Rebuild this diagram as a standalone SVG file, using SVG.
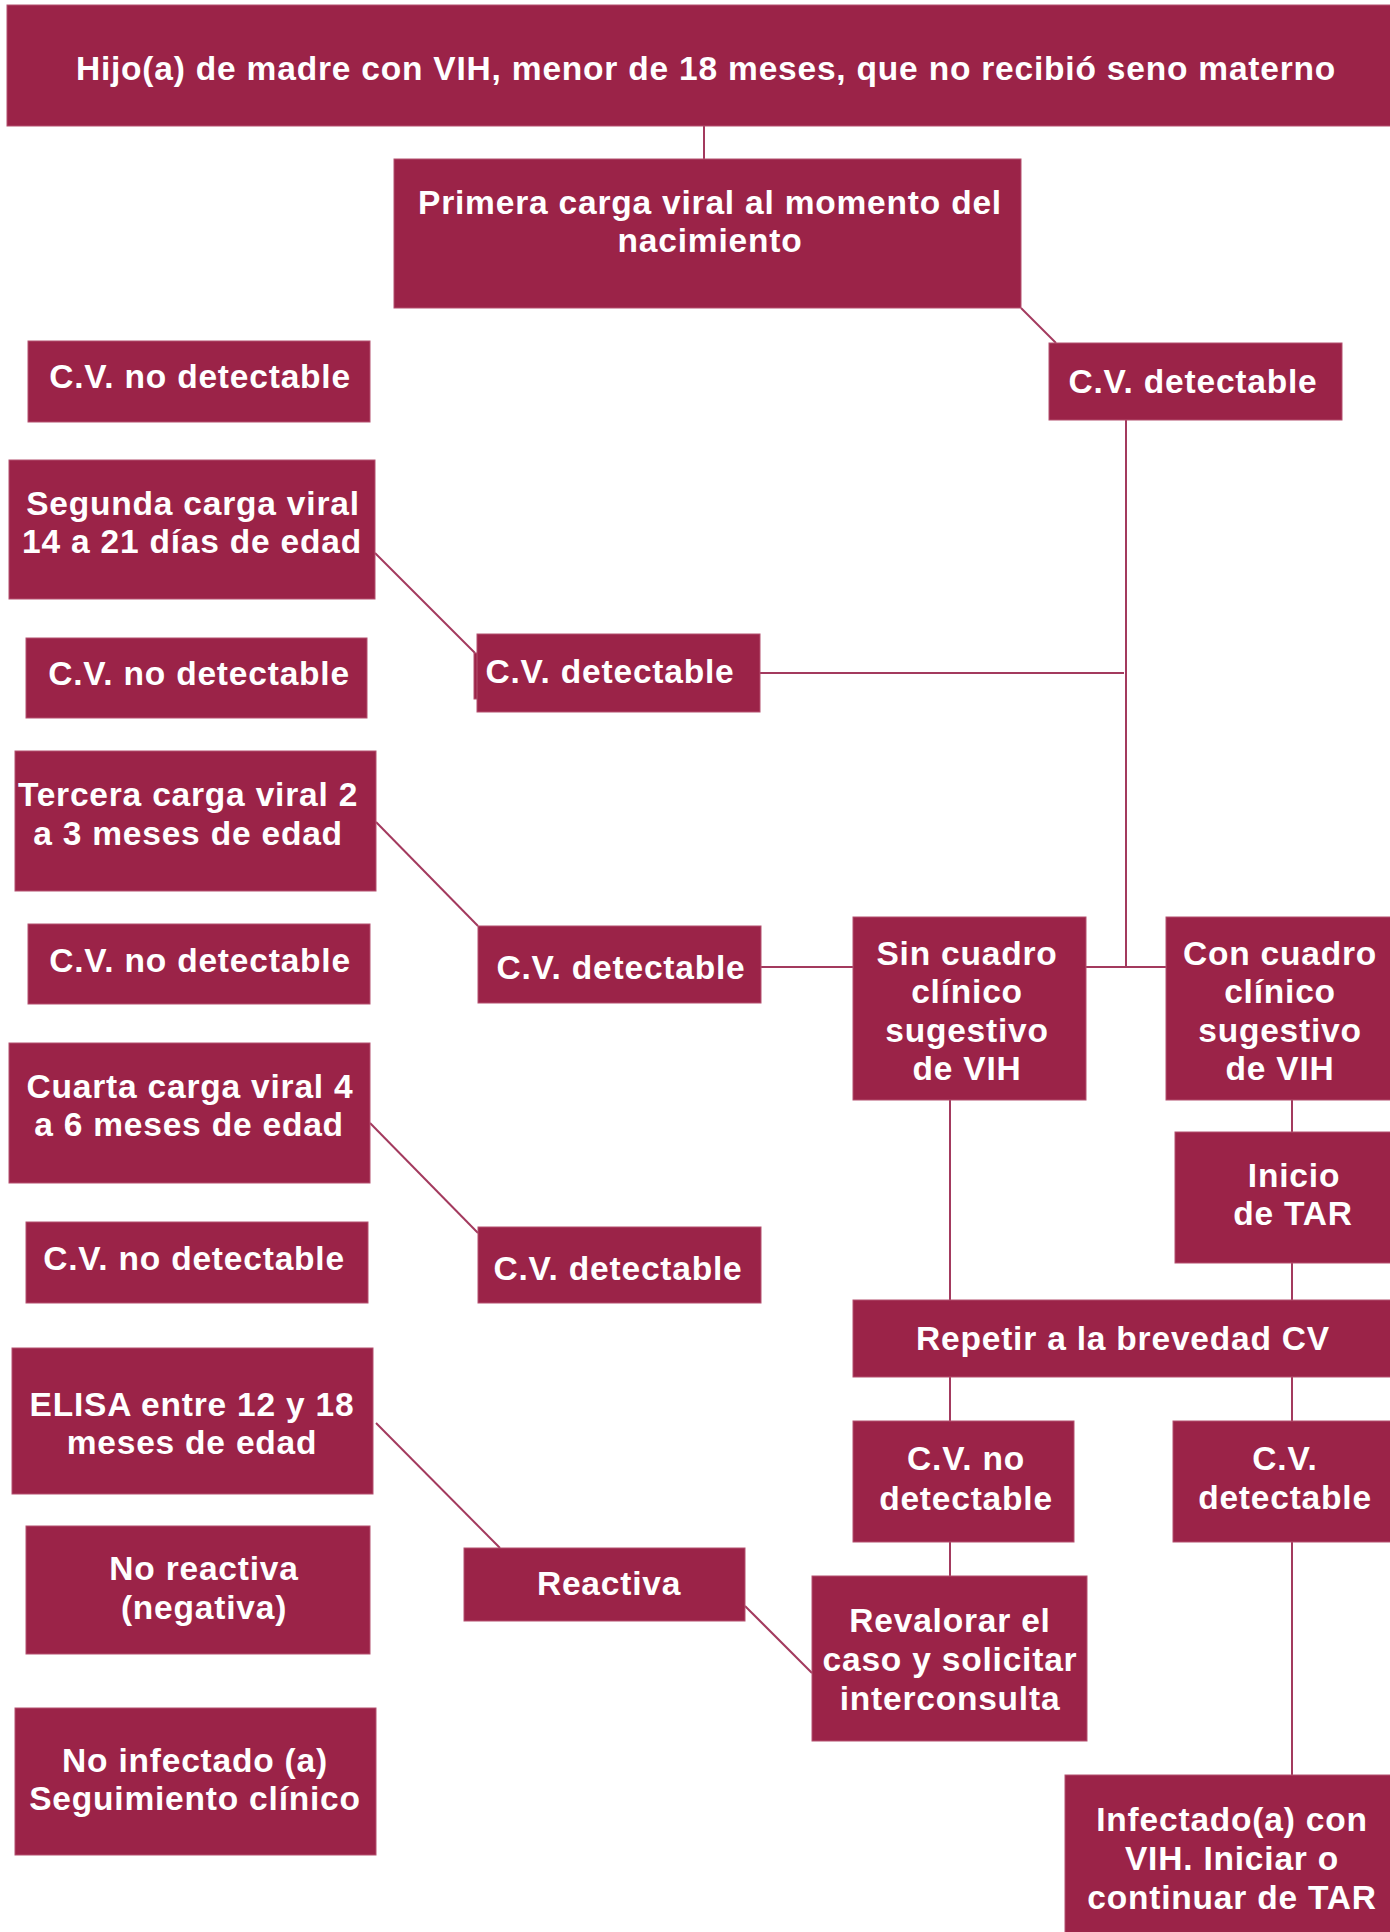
<svg xmlns="http://www.w3.org/2000/svg" width="1390" height="1932" viewBox="0 0 1390 1932">
<style>
.box{fill:#9B2348;stroke:#B4506F;stroke-width:1}
.t{font-family:"Liberation Sans",Arial,sans-serif;font-weight:700;font-size:33.5px;letter-spacing:0.8px;fill:#FFFFFF;text-anchor:middle}
.c{stroke:#A33A5E;stroke-width:2;fill:none}
</style>
<rect width="1390" height="1932" fill="#FFFFFF"/>
<g id="connectors">
<line class="c" x1="704" y1="126" x2="704" y2="159"/>
<line class="c" x1="1021" y1="308" x2="1056" y2="343"/>
<line class="c" x1="1126" y1="420" x2="1126" y2="967"/>
<line class="c" x1="375" y1="553" x2="475" y2="653"/>
<line class="c" x1="760" y1="673" x2="1124" y2="673"/>
<line class="c" x1="376" y1="822" x2="478" y2="926"/>
<line class="c" x1="761" y1="967" x2="853" y2="967"/>
<line class="c" x1="1086" y1="967" x2="1166" y2="967"/>
<line class="c" x1="370" y1="1123" x2="478" y2="1233"/>
<line class="c" x1="1292" y1="1100" x2="1292" y2="1132"/>
<line class="c" x1="1292" y1="1263" x2="1292" y2="1300"/>
<line class="c" x1="950" y1="1100" x2="950" y2="1300"/>
<line class="c" x1="950" y1="1377" x2="950" y2="1421"/>
<line class="c" x1="1292" y1="1377" x2="1292" y2="1421"/>
<line class="c" x1="950" y1="1542" x2="950" y2="1576"/>
<line class="c" x1="1292" y1="1542" x2="1292" y2="1775"/>
<line class="c" x1="376" y1="1423" x2="500" y2="1548"/>
<line class="c" x1="745" y1="1606" x2="812" y2="1673"/>
</g>
<g id="n-top"><rect class="box" x="7" y="5" width="1390" height="121"/><text class="t" x="706" y="80">Hijo(a) de madre con VIH, menor de 18 meses, que no recibió seno materno</text></g>
<g id="n-primera"><rect class="box" x="394" y="159" width="627" height="149"/><text class="t" x="710" y="214">Primera carga viral al momento del</text><text class="t" x="710" y="252">nacimiento</text></g>
<g id="n-cvd1"><rect class="box" x="1049" y="343" width="293" height="77"/><text class="t" x="1193" y="393">C.V. detectable</text></g>
<g id="n-cvnd1"><rect class="box" x="28" y="341" width="342" height="81"/><text class="t" x="200" y="388">C.V. no detectable</text></g>
<g id="n-segunda"><rect class="box" x="9" y="460" width="366" height="139"/><text class="t" x="193" y="515">Segunda carga viral</text><text class="t" x="192" y="553">14 a 21 días de edad</text></g>
<g id="n-cvd2"><rect class="box" x="474" y="653" width="6" height="46"/><rect class="box" x="477" y="634" width="283" height="78"/><text class="t" x="610" y="683">C.V. detectable</text></g>
<g id="n-cvnd2"><rect class="box" x="26" y="638" width="341" height="80"/><text class="t" x="199" y="685">C.V. no detectable</text></g>
<g id="n-tercera"><rect class="box" x="15" y="751" width="361" height="140"/><text class="t" x="188" y="806">Tercera carga viral 2</text><text class="t" x="188" y="845">a 3 meses de edad</text></g>
<g id="n-cvnd3"><rect class="box" x="28" y="924" width="342" height="80"/><text class="t" x="200" y="972">C.V. no detectable</text></g>
<g id="n-cvd3"><rect class="box" x="478" y="926" width="283" height="77"/><text class="t" x="621" y="979">C.V. detectable</text></g>
<g id="n-sin"><rect class="box" x="853" y="917" width="233" height="183"/><text class="t" x="967" y="965">Sin cuadro</text><text class="t" x="967" y="1003">clínico</text><text class="t" x="967" y="1042">sugestivo</text><text class="t" x="967" y="1080">de VIH</text></g>
<g id="n-con"><rect class="box" x="1166" y="917" width="230" height="183"/><text class="t" x="1280" y="965">Con cuadro</text><text class="t" x="1280" y="1003">clínico</text><text class="t" x="1280" y="1042">sugestivo</text><text class="t" x="1280" y="1080">de VIH</text></g>
<g id="n-cuarta"><rect class="box" x="9" y="1043" width="361" height="140"/><text class="t" x="190" y="1098">Cuarta carga viral 4</text><text class="t" x="189" y="1136">a 6 meses de edad</text></g>
<g id="n-cvnd4"><rect class="box" x="26" y="1222" width="342" height="81"/><text class="t" x="194" y="1270">C.V. no detectable</text></g>
<g id="n-cvd4"><rect class="box" x="478" y="1227" width="283" height="76"/><text class="t" x="618" y="1280">C.V. detectable</text></g>
<g id="n-inicio"><rect class="box" x="1175" y="1132" width="220" height="131"/><text class="t" x="1294" y="1187">Inicio</text><text class="t" x="1293" y="1225">de TAR</text></g>
<g id="n-repetir"><rect class="box" x="853" y="1300" width="542" height="77"/><text class="t" x="1123" y="1350">Repetir a la brevedad CV</text></g>
<g id="n-cvnd5"><rect class="box" x="853" y="1421" width="221" height="121"/><text class="t" x="966" y="1470">C.V. no</text><text class="t" x="966" y="1510">detectable</text></g>
<g id="n-cvd5"><rect class="box" x="1173" y="1421" width="222" height="121"/><text class="t" x="1285" y="1470">C.V.</text><text class="t" x="1285" y="1509">detectable</text></g>
<g id="n-revalorar"><rect class="box" x="812" y="1576" width="275" height="165"/><text class="t" x="950" y="1632">Revalorar el</text><text class="t" x="950" y="1671">caso y solicitar</text><text class="t" x="950" y="1710">interconsulta</text></g>
<g id="n-infectado"><rect class="box" x="1065" y="1775" width="330" height="162"/><text class="t" x="1232" y="1831">Infectado(a) con</text><text class="t" x="1232" y="1870">VIH. Iniciar o</text><text class="t" x="1232" y="1909">continuar de TAR</text></g>
<g id="n-elisa"><rect class="box" x="12" y="1348" width="361" height="146"/><text class="t" x="192" y="1416">ELISA entre 12 y 18</text><text class="t" x="192" y="1454">meses de edad</text></g>
<g id="n-noreactiva"><rect class="box" x="26" y="1526" width="344" height="128"/><text class="t" x="204" y="1580">No reactiva</text><text class="t" x="204" y="1619">(negativa)</text></g>
<g id="n-reactiva"><rect class="box" x="464" y="1548" width="281" height="73"/><text class="t" x="609" y="1595">Reactiva</text></g>
<g id="n-noinfectado"><rect class="box" x="15" y="1708" width="361" height="147"/><text class="t" x="195" y="1772">No infectado (a)</text><text class="t" x="195" y="1810">Seguimiento clínico</text></g>
</svg>
